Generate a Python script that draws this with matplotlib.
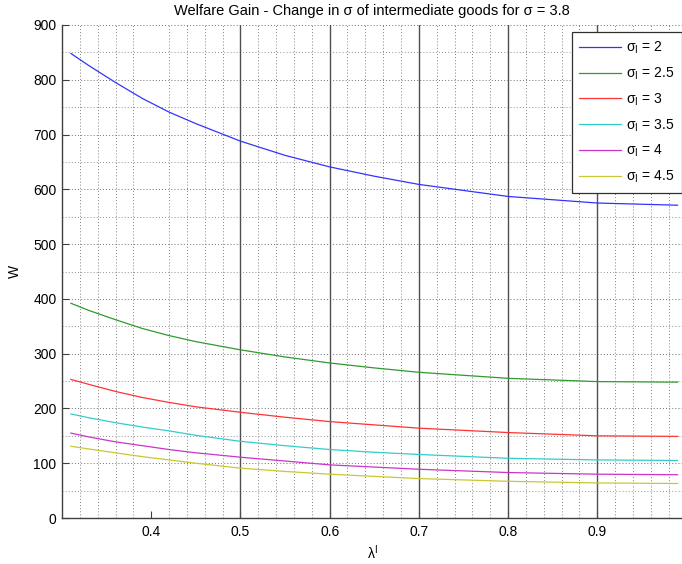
import matplotlib
matplotlib.use("Agg")
import matplotlib.pyplot as plt
from matplotlib.ticker import MultipleLocator, FixedLocator

plt.rcParams['font.family'] = ['Liberation Sans', 'DejaVu Sans']
plt.rcParams['mathtext.fontset'] = 'custom'
plt.rcParams['mathtext.rm'] = 'Liberation Sans'
plt.rcParams['mathtext.it'] = 'Liberation Sans:italic'

# Data
lam = [0.31, 0.33, 0.36, 0.39, 0.42, 0.45, 0.5, 0.55, 0.6, 0.65, 0.7, 0.8, 0.9, 0.99]
w_s2 = [848, 826, 795, 766, 741, 720, 688, 662, 641, 624, 609, 587, 575, 571]
w_s25 = [392, 379, 362, 346, 333, 322, 307, 294, 283, 274, 266, 255, 249, 248]
w_s3 = [253, 244, 231, 220, 211, 203, 193, 184, 176, 170, 164, 156, 150, 149]
w_s35 = [190, 183, 174, 166, 159, 151, 140, 132, 125, 120, 116, 109, 106, 105]
w_s4 = [155, 148, 139, 132, 125, 119, 111, 104, 97, 93, 89, 83, 80, 79]
w_s45 = [131, 126, 119, 112, 106, 100, 91, 85, 80, 76, 72, 67, 64, 63]
series = [w_s2, w_s25, w_s3, w_s35, w_s4, w_s45]
sigma_labels = ['2', '2.5', '3', '3.5', '4', '4.5']
colors = ['#3333ff', '#2f9a2f', '#ff3333', '#33cccc', '#cc33cc', '#c8c833']
marked_x = [0.5, 0.6, 0.7, 0.8, 0.9]
xticks = [0.4, 0.5, 0.6, 0.7, 0.8, 0.9]

fig = plt.figure(figsize=(6.82, 5.64), dpi=100)
ax = fig.add_axes([62 / 682, 1 - 518 / 564, 1 - 62 / 682, (518 - 25) / 564])

for xv in marked_x:
    ax.axvline(xv, color='#505050', lw=1.0, zorder=1)

for ys, lab, c in zip(series, sigma_labels, colors):
    ax.plot(lam, ys, color=c, lw=0.9, label='σ$_\\mathrm{I}$ = ' + lab, zorder=3)

ax.set_xlim(0.3, 0.995)
ax.set_ylim(0, 900)
ax.xaxis.set_major_locator(FixedLocator(xticks))
ax.set_xticklabels([f'{v:.1f}' for v in xticks])
ax.xaxis.set_minor_locator(MultipleLocator(0.02))
ax.yaxis.set_major_locator(MultipleLocator(100))
ax.yaxis.set_minor_locator(MultipleLocator(50))

dot = (0, (1, 2.2))
ax.grid(False)
ax.xaxis.grid(True, which='minor', color='#808080', linestyle=dot, lw=0.7)
ax.yaxis.grid(True, which='major', color='#707070', linestyle=dot, lw=0.7)
ax.yaxis.grid(True, which='minor', color='#909090', linestyle=dot, lw=0.7)
ax.set_axisbelow(True)

for s in ['top', 'right']:
    ax.spines[s].set_visible(False)
for s in ['left', 'bottom']:
    ax.spines[s].set_color('#404040')
    ax.spines[s].set_linewidth(1.0)

ax.tick_params(which='major', direction='in', length=5, width=0.8, color='#404040',
               labelsize=10, pad=4)
ax.tick_params(which='minor', length=0)
ax.tick_params(axis='x', pad=5)

ax.set_title('Welfare Gain - Change in σ of intermediate goods for σ = 3.8',
             fontsize=10.5, pad=7)
ax.set_xlabel('λ$^\\mathrm{I}$', fontsize=10, labelpad=3)
ax.set_ylabel('W', fontsize=10, labelpad=8)

leg = ax.legend(loc='upper right', bbox_to_anchor=(1.0, 1 - 7 / 493), fontsize=10,
                frameon=True, fancybox=False, framealpha=1, edgecolor='#303030',
                handlelength=3.0, labelspacing=0.68, borderpad=0.55, handletextpad=0.35,
                borderaxespad=0.0)
leg.get_frame().set_linewidth(0.9)

fig.savefig('out.png', dpi=100)
